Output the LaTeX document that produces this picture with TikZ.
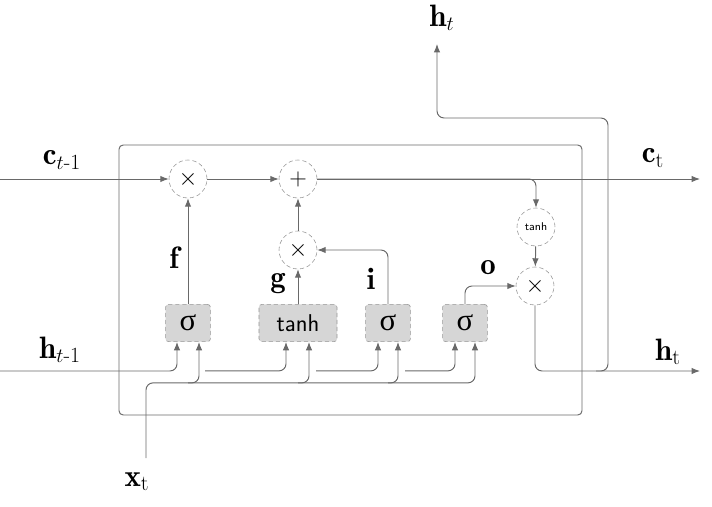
\documentclass[tikz,border=0pt]{standalone}
\usepackage{amsmath,amssymb}
\usepackage{fontspec}
\usepackage{xcolor}
\usepackage{tikz}
\usetikzlibrary{arrows,arrows.meta,positioning,calc}
\newfontfamily\sigmafont{Liberation Serif}
\definecolor{linecolor}{RGB}{105, 105, 105}
\definecolor{gatecolor}{RGB}{214, 214, 214}

\begin{document}
\begin{tikzpicture}[x=0.025cm,y=-0.025cm,>={Latex[length=6pt,width=4.6pt]},
  every node/.style={font=\small},
  flow/.style={->,linecolor,line width=0.7pt,rounded corners=5pt},
  op/.style={circle,draw=linecolor!70,densely dashed,fill=white,minimum size=0.95cm,inner sep=0pt,font=\fontsize{18}{20}\selectfont},
  gate/.style={draw=linecolor!70,densely dashed,rounded corners=2pt,fill=gatecolor,minimum height=0.93cm,minimum width=1.12cm,inner sep=0pt,font=\fontsize{22}{24}\selectfont\sigmafont},
  lbl/.style={font=\fontsize{22}{26}\selectfont}]
\useasboundingbox (0,0) rectangle (712,507);
% cell
\draw[linecolor,line width=0.7pt,rounded corners=3pt](119,145) rectangle (582,415);
% operations
\node[op](mf) at (188,179){$\times$};
\node[op](pl) at (298,179){$+$};
\node[op](mg) at (298,250){$\times$};
\node[op,font=\footnotesize\sffamily](tc) at (536,227){tanh};
\node[op](mo) at (535,286){$\times$};
% gates
\node[gate](sf) at (188,323){σ};
\node[gate,minimum width=1.95cm,font=\LARGE\sffamily](tb) at (298,323){tanh};
\node[gate](si) at (388,323){σ};
\node[gate](so) at (465,323){σ};
% ends
\coordinate(cprev) at (0,179); \coordinate(cnext) at (700,179);
\coordinate(hprev) at (0,371); \coordinate(hnext) at (700,371);
\coordinate(hbr) at (608,371); \coordinate(hup) at (608,118); \coordinate(htop) at (437,44);
\coordinate(xin) at (146,458);
% labels
\node[lbl](lc0) at (62,160){$\mathbf{c}_{t\text{-1}}$};
\node[lbl](lh0) at (60,350){$\mathbf{h}_{t\text{-1}}$};
\node[lbl](lc1) at (653,158){$\mathbf{c}_{\mathrm{t}}$};
\node[lbl](lh1) at (668,352){$\mathbf{h}_{\mathrm{t}}$};
\node[lbl](lh2) at (442,18){$\mathbf{h}_{t}$};
\node[lbl](lx) at (137,482){$\mathbf{x}_{\mathrm{t}}$};
\node[lbl](lf) at (174,258){$\mathbf{f}$};
\node[lbl](lg) at (278,284){$\mathbf{g}$};
\node[lbl](li) at (371,279){$\mathbf{i}$};
\node[lbl](lo) at (488,268){$\mathbf{o}$};
% cell state
\draw[flow](cprev)--(mf); \draw[flow](mf)--(pl); \draw[flow](pl)--(cnext);
\draw[flow](pl.east)-|(tc.north); \draw[flow](tc)--(mo);
% gate outputs
\draw[flow](sf)--(mf); \draw[flow](tb)--(mg); \draw[flow](mg)--(pl);
\draw[flow](si.north)|-(mg.east); \draw[flow](so.north)|-(mo.west);
% hidden state out
\draw[flow](mo.south)|-(hnext);
\draw[flow]($(hbr)+(-12,0)$)--(hbr)--(hup)-|(htop);
% h_{t-1} bus
\draw[flow](hprev)-|($(sf.south)+(-11,0)$);
\draw[flow]($(sf.south)+(17,29)$)-|($(tb.south)+(-12,0)$);
\draw[flow]($(tb.south)+(18,29)$)-|($(si.south)+(-10,0)$);
\draw[flow]($(si.south)+(17,29)$)-|($(so.south)+(-10,0)$);
% x_t bus
\draw[flow](xin)|-($(so.south)+(10,41)$)--($(so.south)+(10,0)$);
\draw[flow]($(sf.south)+(0,41)$)-|($(sf.south)+(11,0)$);
\draw[flow]($(tb.south)+(0,41)$)-|($(tb.south)+(11,0)$);
\draw[flow]($(si.south)+(0,41)$)-|($(si.south)+(10,0)$);
\end{tikzpicture}
\end{document}
